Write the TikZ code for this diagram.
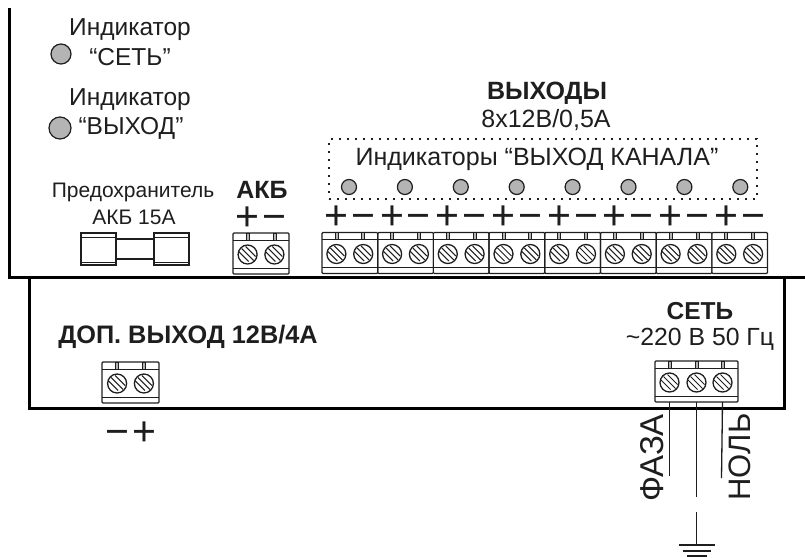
\documentclass[tikz,border=0pt]{standalone}
\usepackage{fontspec}
\setmainfont{Liberation Sans}
\usetikzlibrary{positioning}
\definecolor{inkdark}{HTML}{1E1E1E}
\definecolor{ledgray}{HTML}{B4B4B4}
\tikzset{
  lbl/.style={inner sep=0pt, outer sep=0pt, text=inkdark, font=\fontsize{#1}{#1}\selectfont},
  lblb/.style={inner sep=0pt, outer sep=0pt, text=inkdark, font=\fontsize{#1}{#1}\selectfont\bfseries},
  sign/.style={inner sep=0pt, outer sep=0pt, text=inkdark, text height=22pt, text depth=0pt, font=\fontsize{41}{41}\selectfont},
  frameline/.style={draw=black, line width=3pt},
  wire/.style={draw=inkdark, line width=1.3pt},
  term/.style={draw=inkdark, line width=1.2pt, rounded corners=1pt, minimum height=41pt, inner sep=0pt, outer sep=0pt},
  tabmark/.style={draw=inkdark, line width=0.8pt, fill=ledgray, minimum width=3pt, minimum height=7pt, inner sep=0pt, outer sep=0pt},
  fusepart/.style={draw=inkdark, line width=1.2pt, fill=white, inner sep=0pt, outer sep=0pt},
  led/.style={circle, draw=inkdark, line width=1.2pt, fill=ledgray, inner sep=0pt, minimum size=#1},
  screw/.style={circle, draw=inkdark, line width=1.3pt, inner sep=0pt, minimum size=19pt, path picture={
    \draw[line width=1pt, inkdark] ([shift={(-9pt,3pt)}]path picture bounding box.center) -- ++(10pt,-10pt);
    \draw[line width=1pt, inkdark] ([shift={(-6pt,6pt)}]path picture bounding box.center) -- ++(12pt,-12pt);
    \draw[line width=1pt, inkdark] ([shift={(-2pt,8pt)}]path picture bounding box.center) -- ++(10pt,-10pt);
  }}
}
% block body with its two inner lines
\newcommand{\termbody}[3]{
  \node[term, minimum width=#2pt, #3] (#1) {};
  \draw[line width=1pt, inkdark] ([yshift=-7pt]#1.north west) -- ([yshift=-7pt]#1.north east);
  \draw[line width=1pt, inkdark] ([yshift=6pt]#1.south west) -- ([yshift=6pt]#1.south east);
}
% one pole: screw and small tab
\newcommand{\termpole}[3]{
  \node[screw] (#2) at ([xshift=#3pt,yshift=-1pt]#1.center) {};
  \node[tabmark, below=0pt of #1.north -| #2] (#2tab) {};
}
\newcommand{\twopole}[1]{
  \termpole{#1}{#1l}{-13.4}
  \termpole{#1}{#1r}{13.4}
}
% plus and minus above a pair
\newcommand{\polesigns}[1]{
  \node[sign] (#1plus) at ([yshift=35.5pt]#1l) {+};
  \node[sign] (#1minus) at ([yshift=35.5pt]#1r) {−};
}

\begin{document}
\begin{tikzpicture}[x=1pt, y=-1pt]
\useasboundingbox (0,0) rectangle (805,557);

% корпус
\draw[frameline] (9,8) -- (9,277) -- (805,277);
\draw[frameline] (29,277) -- (29,408) -- (784,408) -- (784,277);

% индикаторы
\node[lbl=24.5] (indset) at (130,30) {Индикатор};
\node[lbl=24.5] (indsetb) at (130,57) {“СЕТЬ”};
\node[led=20pt] (ledset) at (61,54) {};
\node[lbl=24.5] (indout) at (130,100) {Индикатор};
\node[lbl=24.5] (indoutb) at (131,128) {“ВЫХОД”};
\node[led=22pt] (ledout) at (60,128) {};

% предохранитель
\node[lbl=21] (fuset) at (133,192) {Предохранитель};
\node[lbl=21] (fuseb) at (134,217) {АКБ 15А};
\node[fusepart, minimum width=38pt, minimum height=20pt] (fusemid) at (135,249) {};
\node[fusepart, minimum width=35pt, minimum height=32pt, left=0pt of fusemid] (fusel) {};
\node[fusepart, minimum width=35pt, minimum height=32pt, right=0pt of fusemid] (fuser) {};
\draw[line width=1pt, inkdark] ([yshift=-4pt]fusel.north west) -- ([yshift=-4pt]fusel.north east);
\draw[line width=1pt, inkdark] ([yshift=3pt]fusel.south west) -- ([yshift=3pt]fusel.south east);
\draw[line width=1pt, inkdark] ([yshift=-4pt]fuser.north west) -- ([yshift=-4pt]fuser.north east);
\draw[line width=1pt, inkdark] ([yshift=3pt]fuser.south west) -- ([yshift=3pt]fuser.south east);

% АКБ
\termbody{akb}{56}{at={(261,253.5)}}
\twopole{akb}
\polesigns{akb}
\node[lblb=25] (akbt) at (262,190) {АКБ};

% выходы
\termbody{outa}{55.7}{at={(349.8,253)}}
\termbody{outb}{55.7}{right=0pt of outa}
\termbody{outc}{55.7}{right=0pt of outb}
\termbody{outd}{55.7}{right=0pt of outc}
\termbody{oute}{55.7}{right=0pt of outd}
\termbody{outf}{55.7}{right=0pt of oute}
\termbody{outg}{55.7}{right=0pt of outf}
\termbody{outh}{55.7}{right=0pt of outg}
\twopole{outa} \polesigns{outa}
\twopole{outb} \polesigns{outb}
\twopole{outc} \polesigns{outc}
\twopole{outd} \polesigns{outd}
\twopole{oute} \polesigns{oute}
\twopole{outf} \polesigns{outf}
\twopole{outg} \polesigns{outg}
\twopole{outh} \polesigns{outh}

\node[lblb=25] (outt) at (547,93) {ВЫХОДЫ};
\node[lbl=25] (outv) at (546,120) {8х12В/0,5А};

% индикаторы каналов
\node[draw=inkdark, line width=1.6pt, dash pattern=on 2pt off 6pt, minimum width=428pt, minimum height=60pt, inner sep=0pt] (chanbox) at (543,169) {};
\node[lbl=25] (chant) at (537,159) {Индикаторы “ВЫХОД КАНАЛА”};
\node[led=15pt] (leda) at (349,187) {};
\node[led=15pt, right=39.7pt of leda] (ledb) {};
\node[led=15pt, right=39.7pt of ledb] (ledc) {};
\node[led=15pt, right=39.7pt of ledc] (ledd) {};
\node[led=15pt, right=39.7pt of ledd] (lede) {};
\node[led=15pt, right=39.7pt of lede] (ledf) {};
\node[led=15pt, right=39.7pt of ledf] (ledg) {};
\node[led=15pt, right=39.7pt of ledg] (ledh) {};

% доп. выход
\node[lblb=25.3] (dopt) at (188,337) {ДОП. ВЫХОД 12В/4А};
\termbody{dop}{57}{at={(130.5,382.5)}}
\twopole{dop}
\node[sign] (dopminus) at (117,434.5) {−};
\node[sign] (dopplus) at (144,434.5) {+};

% сеть
\node[lblb=24.5] (sett) at (700,311) {СЕТЬ};
\node[lbl=24.8] (setv) at (700,339) {\char"007E 220 В 50 Гц};
\termbody{net}{83}{at={(696.5,381.5)}}
\termpole{net}{neta}{-27}
\termpole{net}{netb}{0}
\termpole{net}{netc}{26}

\coordinate (fazaend) at (669.5,476);
\coordinate (pewire) at (696.5,497);
\coordinate (nolend) at (721.5,478);
\draw[wire] (neta |- net.south) -- (fazaend);
\draw[wire] (netb |- net.south) -- (pewire);
\draw[wire] (netc |- net.south) -- (nolend);
\node[lbl=33, rotate=90] (faza) at (652,458) {ФАЗА};
\node[lbl=31, rotate=90] (nol) at (740,457) {НОЛЬ};

% земля
\coordinate (gndtop) at (696.5,512);
\coordinate (gnda) at (696.5,545);
\draw[wire] (gndtop) -- (gnda);
\draw[wire] ([xshift=-18pt]gnda) -- ([xshift=18pt]gnda);
\draw[wire] ([xshift=-14pt,yshift=-6pt]gnda) -- ([xshift=14pt,yshift=-6pt]gnda);
\draw[wire] ([xshift=-10pt,yshift=-11pt]gnda) -- ([xshift=10pt,yshift=-11pt]gnda);
\end{tikzpicture}
\end{document}
